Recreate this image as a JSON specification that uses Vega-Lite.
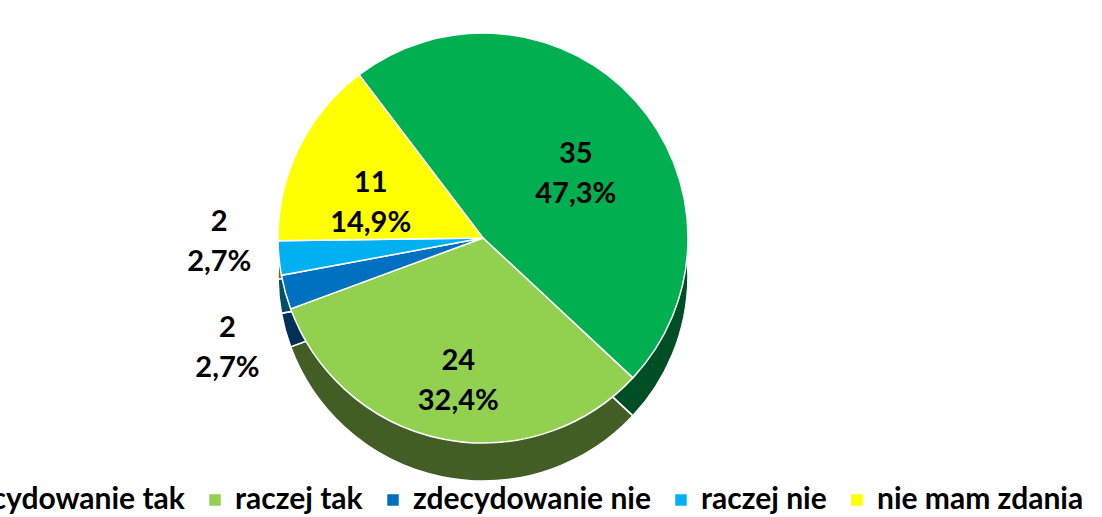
{
  "$schema": "https://vega.github.io/schema/vega-lite/v6.json",
  "width": 966,
  "height": 476,
  "autosize": {"type": "none"},
  "padding": {"left": 0, "top": 0, "right": 136, "bottom": 41},
  "background": "white",
  "config": {"view": {"stroke": null}, "font": "Lato"},
  "data": {
    "values": [
      {"lp": 1, "odp": "zdecydowanie tak", "n": 35, "etykieta": "35\n47,3%"},
      {"lp": 2, "odp": "raczej tak", "n": 24, "etykieta": "24\n32,4%"},
      {"lp": 3, "odp": "zdecydowanie nie", "n": 2, "etykieta": "2\n2,7%"},
      {"lp": 4, "odp": "raczej nie", "n": 2, "etykieta": "2\n2,7%"},
      {"lp": 5, "odp": "nie mam zdania", "n": 11, "etykieta": "11\n14,9%"}
    ]
  },
  "encoding": {
    "theta": {"field": "n", "type": "quantitative", "stack": true, "scale": {"range": [-0.65, 5.6332]}},
    "order": {"field": "lp", "type": "quantitative"}
  },
  "layer": [
    {
      "mark": {"type": "arc", "outerRadius": 205, "yOffset": 38, "stroke": "white", "strokeWidth": 1.5},
      "encoding": {
        "color": {"field": "odp", "type": "nominal",
          "scale": {"domain": ["zdecydowanie tak", "raczej tak", "zdecydowanie nie", "raczej nie", "nie mam zdania"],
                    "range": ["#00B050", "#92D050", "#0070C0", "#00B0F0", "#FFFF00"]}}
      }
    },
    {
      "mark": {"type": "arc", "outerRadius": 205, "yOffset": 38, "fill": "black", "fillOpacity": 0.55, "stroke": "white", "strokeWidth": 1.5},
      "encoding": {}
    },
    {
      "mark": {"type": "arc", "outerRadius": 205, "stroke": "white", "strokeWidth": 1.5},
      "encoding": {
        "color": {"field": "odp", "type": "nominal",
          "scale": {"domain": ["zdecydowanie tak", "raczej tak", "zdecydowanie nie", "raczej nie", "nie mam zdania"],
                    "range": ["#00B050", "#92D050", "#0070C0", "#00B0F0", "#FFFF00"]},
          "legend": {"orient": "none", "direction": "horizontal", "legendX": -90, "legendY": 485, "title": null,
                     "symbolType": "square", "symbolSize": 132, "symbolStrokeWidth": 0,
                     "labelFont": "Lato", "labelFontSize": 30, "labelFontWeight": "bold", "labelColor": "black",
                     "columnPadding": 15, "labelOffset": 5, "labelLimit": 0}}
      }
    },
    {
      "mark": {"type": "text", "radius": 125, "font": "Lato", "fontSize": 29, "fontWeight": "bold", "color": "black", "lineBreak": "\n", "lineHeight": 40},
      "encoding": {"text": {"condition": {"test": "datum.n >= 5", "field": "etykieta", "type": "nominal"}, "value": ""}}
    },
    {
      "mark": {"type": "text", "radius": 265, "dy": -42, "font": "Lato", "fontSize": 29, "fontWeight": "bold", "color": "black", "lineBreak": "\n", "lineHeight": 40},
      "encoding": {"text": {"condition": {"test": "datum.odp === 'raczej nie'", "field": "etykieta", "type": "nominal"}, "value": ""}}
    },
    {
      "mark": {"type": "text", "radius": 265, "dy": 20, "font": "Lato", "fontSize": 29, "fontWeight": "bold", "color": "black", "lineBreak": "\n", "lineHeight": 40},
      "encoding": {"text": {"condition": {"test": "datum.odp === 'zdecydowanie nie'", "field": "etykieta", "type": "nominal"}, "value": ""}}
    }
  ]
}
